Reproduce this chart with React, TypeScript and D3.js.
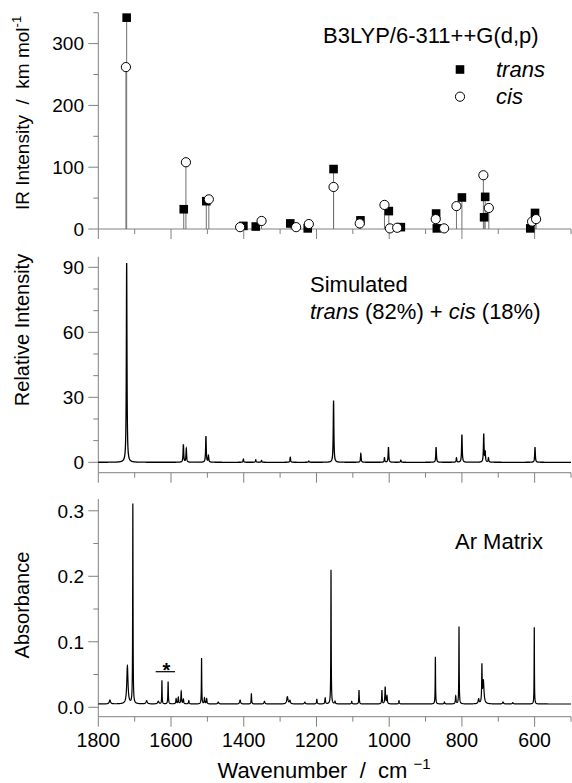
import React from "react";
import * as d3 from "d3";

const W = 572;
const H = 783;
const FONT = "'Liberation Sans', Arial, Helvetica, sans-serif";
const AXIS = "#808080";

// ---- Top panel: B3LYP/6-311++G(d,p) computed IR intensities (km/mol)
const transFreq = [1722, 1565, 1503, 1401, 1367, 1272, 1224, 1153, 1079, 1001, 968, 871, 869, 800, 739, 736, 612, 599];
const transInt = [342, 32, 45, 5, 4, 9, 1, 97, 14, 29, 3, 25, 1, 51, 19, 52, 1, 26];
const cisFreq = [1724, 1559, 1496, 1410, 1351, 1256, 1221, 1153, 1081, 1013, 998, 978, 872, 849, 815, 741, 726, 607, 596];
const cisInt = [262, 108, 48, 3, 13, 3, 8, 68, 9, 39, 1, 2, 16, 1, 37, 87, 34, 12, 16];

// ---- Middle panel: simulated spectrum peaks (position, height)
const simPos = [1722, 1566, 1558, 1504, 1497, 1401, 1367, 1351, 1272, 1221, 1153, 1078, 1013, 1002, 968, 871, 815, 800, 740, 736, 727, 599];
const simHeight = [92, 8.2, 6.2, 12, 3, 1.5, 1.2, 0.8, 2.3, 0.6, 28.5, 4, 2, 7, 1, 7, 2, 12.8, 13, 4.5, 2, 7];
const simFWHM = 2;

// ---- Bottom panel: Ar matrix absorbance peaks (position, height above baseline, FWHM)
const expPos = [1768, 1720, 1705, 1667, 1635, 1625, 1608, 1586, 1580, 1572, 1566, 1551, 1516, 1508, 1502, 1470, 1410, 1379, 1343, 1280, 1273, 1232, 1199, 1176, 1160, 1149, 1103, 1083, 1020, 1011, 1006, 973, 873, 848, 817, 808, 754, 745, 741, 687, 660, 601];
const expHeight = [0.006, 0.058, 0.305, 0.005, 0.004, 0.036, 0.034, 0.008, 0.01, 0.019, 0.007, 0.005, 0.07, 0.009, 0.008, 0.003, 0.006, 0.016, 0.004, 0.011, 0.005, 0.003, 0.007, 0.009, 0.205, 0.004, 0.004, 0.021, 0.021, 0.026, 0.012, 0.005, 0.072, 0.003, 0.012, 0.118, 0.007, 0.055, 0.035, 0.003, 0.002, 0.117];
const expFWHM = [4, 4, 1.2, 4, 4, 1.2, 1.5, 2, 2, 2, 2, 2, 1.2, 2, 2, 3, 3, 1.5, 3, 4, 3, 3, 2, 2, 1.2, 2, 2, 1.5, 1.5, 2, 2, 2, 1.2, 2, 2, 1.2, 3, 1.5, 4, 3, 3, 1];
const expBaseline = 0.005;

const xTicks = d3.range(500, 1801, 100);
const xTickLabels = [1800, 1600, 1400, 1200, 1000, 800, 600];

const grid = d3.range(500, 1800.001, 0.1);

function lorentzSum(w: number, pos: number[], hts: number[], fw: (i: number) => number) {
  let s = 0;
  for (let i = 0; i < pos.length; i++) {
    const hw = fw(i) / 2;
    const d = (w - pos[i]) / hw;
    s += hts[i] / (1 + d * d);
  }
  return s;
}

export default function App() {
  const x = d3.scaleLinear().domain([1800, 500]).range([98.3, 571]);
  const y1 = d3.scaleLinear().domain([0, 350]).range([229, 12.7]);
  const y2 = d3.scaleLinear().domain([-4.8, 94.9]).range([472.7, 256.7]);
  const y3 = d3.scaleLinear().domain([-0.0144, 0.318]).range([716.7, 499]);

  const simData = grid.map((w) => [w, lorentzSum(w, simPos, simHeight, () => simFWHM)]);
  const expData = grid.map((w) => [w, expBaseline + lorentzSum(w, expPos, expHeight, (i) => expFWHM[i])]);

  const line2 = d3.line<number[]>().x((d) => x(d[0])).y((d) => y2(d[1]));
  const line3 = d3.line<number[]>().x((d) => x(d[0])).y((d) => y3(d[1]));

  const xAxis = (yPix: number, labels: boolean, key: string) => (
    <g key={key}>
      <line x1={x(1800)} x2={x(500)} y1={yPix} y2={yPix} stroke={AXIS} strokeWidth={1} />
      {xTicks.map((t) => {
        const major = t % 200 === 0;
        return (
          <line key={t} x1={x(t)} x2={x(t)} y1={yPix} y2={yPix + (major ? 10 : 5)} stroke={AXIS} strokeWidth={1} />
        );
      })}
      {labels &&
        xTickLabels.map((t) => (
          <text key={"l" + t} x={x(t)} y={yPix + 30} textAnchor="middle" fontSize={19.5} fontFamily={FONT} fill="#000">
            {t}
          </text>
        ))}
    </g>
  );

  const yAxis = (
    scale: d3.ScaleLinear<number, number>,
    ticks: number[],
    isMajor: (i: number) => boolean,
    fmt: (v: number) => string,
    yBottom: number,
    yTop: number,
    key: string
  ) => (
    <g key={key}>
      <line x1={x(1800)} x2={x(1800)} y1={yBottom} y2={yTop} stroke={AXIS} strokeWidth={1} />
      {ticks.map((t, i) => (
        <line key={i} x1={x(1800) - (isMajor(i) ? 10 : 5)} x2={x(1800)} y1={scale(t)} y2={scale(t)} stroke={AXIS} strokeWidth={1} />
      ))}
      {ticks.map((t, i) =>
        isMajor(i) ? (
          <text key={"l" + i} x={84} y={scale(t)} dy="0.36em" textAnchor="end" fontSize={19} fontFamily={FONT} fill="#000">
            {fmt(t)}
          </text>
        ) : null
      )}
    </g>
  );

  const y1Ticks = d3.range(0, 351, 50);
  const y2Ticks = d3.range(0, 91, 10);
  const y3Ticks = d3.range(0, 7).map((i) => i * 0.05);

  return (
    <svg width={W} height={H} style={{ position: "absolute", left: 0, top: 0, background: "#fff" }} fontFamily={FONT}>
      <rect x={0} y={0} width={W} height={H} fill="#fff" />

      {/* ---------- Top panel ---------- */}
      {xAxis(y1(0), false, "xa1")}
      {yAxis(y1, y1Ticks, (i) => y1Ticks[i] % 100 === 0, (v) => String(v), y1(0), y1(350), "ya1")}
      {transFreq.map((f, i) => (
        <line key={"ts" + i} x1={x(f)} x2={x(f)} y1={y1(0)} y2={y1(transInt[i])} stroke="#707070" strokeWidth={1} />
      ))}
      {cisFreq.map((f, i) => (
        <line key={"cs" + i} x1={x(f)} x2={x(f)} y1={y1(0)} y2={y1(cisInt[i])} stroke="#707070" strokeWidth={1} />
      ))}
      {transFreq.map((f, i) => (
        <rect key={"tm" + i} x={x(f) - 4.3} y={y1(transInt[i]) - 4.3} width={8.6} height={8.6} fill="#000" />
      ))}
      {cisFreq.map((f, i) => (
        <circle key={"cm" + i} cx={x(f)} cy={y1(cisInt[i])} r={4.6} fill="#fff" stroke="#000" strokeWidth={1} />
      ))}
      <text x={323} y={43} fontSize={22} fill="#000">B3LYP/6-311++G(d,p)</text>
      <rect x={455.7} y={65.2} width={8.6} height={8.6} fill="#000" />
      <text x={496} y={77} fontSize={22} fontStyle="italic" fill="#000">trans</text>
      <circle cx={460} cy={96.7} r={4.6} fill="#fff" stroke="#000" strokeWidth={1} />
      <text x={496} y={103.5} fontSize={22} fontStyle="italic" fill="#000">cis</text>
      <text transform="translate(29,113) rotate(-90)" textAnchor="middle" fontSize={19} fill="#000" style={{ whiteSpace: "pre" }}>
        {"IR Intensity  /  km mol"}
        <tspan fontSize={13} dy={-8}>-1</tspan>
      </text>

      {/* ---------- Middle panel ---------- */}
      {xAxis(472.7, false, "xa2")}
      {yAxis(y2, y2Ticks, (i) => y2Ticks[i] % 30 === 0, (v) => String(v), 472.7, 256.7, "ya2")}
      <path d={line2(simData) || ""} fill="none" stroke="#000" strokeWidth={1.3} />
      <text x={310} y={292} fontSize={22} fill="#000">Simulated</text>
      <text x={310} y={318.5} fontSize={22} fill="#000">
        <tspan fontStyle="italic">trans</tspan> (82%) + <tspan fontStyle="italic">cis</tspan> (18%)
      </text>
      <text transform="translate(29,330) rotate(-90)" textAnchor="middle" fontSize={20} fill="#000">
        Relative Intensity
      </text>

      {/* ---------- Bottom panel ---------- */}
      {xAxis(716.7, true, "xa3")}
      {yAxis(y3, y3Ticks, (i) => i % 2 === 0, (v) => d3.format(".1f")(v), 716.7, 499, "ya3")}
      <path d={line3(expData) || ""} fill="none" stroke="#000" strokeWidth={1.2} />
      <text x={455} y={548.5} fontSize={22} fill="#000">Ar Matrix</text>
      <line x1={155.7} x2={175} y1={671.7} y2={671.7} stroke="#000" strokeWidth={1.2} />
      <text x={166.5} y={677} textAnchor="middle" fontSize={20} fontWeight="bold" fill="#000">*</text>
      <text transform="translate(29,605) rotate(-90)" textAnchor="middle" fontSize={20} fill="#000">
        Absorbance
      </text>
      <text x={324} y={778} textAnchor="middle" fontSize={22} fill="#000" style={{ whiteSpace: "pre" }}>
        {"Wavenumber  /  cm "}
        <tspan fontSize={15} dy={-9}>−1</tspan>
      </text>
    </svg>
  );
}
